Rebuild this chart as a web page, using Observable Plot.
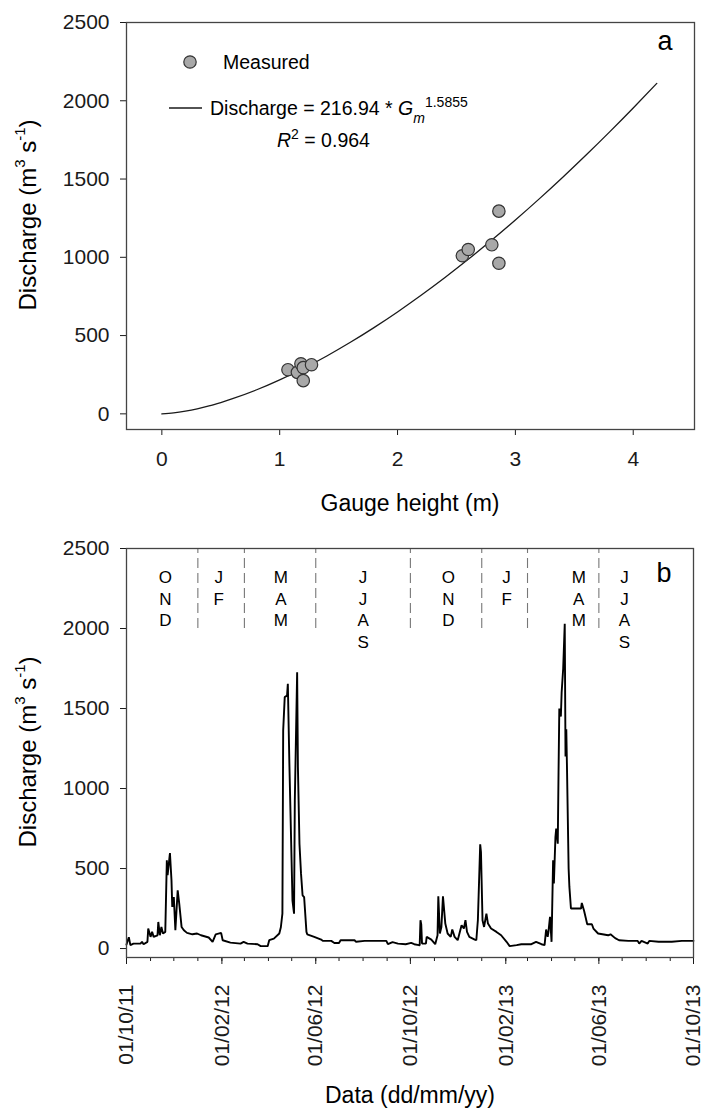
<!DOCTYPE html>
<html>
<head>
<meta charset="utf-8">
<script src="https://cdn.jsdelivr.net/npm/d3@7"></script>
<script src="https://cdn.jsdelivr.net/npm/@observablehq/plot@0.6"></script>
<style>
  html, body { margin: 0; padding: 0; background: #fff; }
  #wrap { width: 703px; }
  #wrap svg { display: block; }
</style>
</head>
<body>
<div id="wrap"></div>
<script>
// ---------------- DATA ----------------
// Panel a: measured points
const gaugeHeight = [1.07, 1.15, 1.18, 1.20, 1.27, 1.20, 2.55, 2.60, 2.80, 2.86, 2.86];
const measuredDischarge = [282, 265, 320, 295, 314, 212, 1010, 1050, 1080, 1295, 962];
// Rating curve stated on the chart: Discharge = 216.94 * Gm^1.5855
const fitCoef = 216.94;
const fitExp = 1.5855;
const curveGauge = [0, 0.1, 0.2, 0.3, 0.4, 0.5, 0.6, 0.8, 1.0, 1.2, 1.4, 1.6, 1.8, 2.0, 2.2, 2.4, 2.6, 2.8, 3.0, 3.2, 3.4, 3.6, 3.8, 4.0, 4.2];
const xTicksA = [0, 1, 2, 3, 4];
const yTicks = [0, 500, 1000, 1500, 2000, 2500];

// Panel b: daily discharge series (day offset from 01/10/2011, m3/s)
const seriesStart = "2011-10-01";
const dayOffset = [0, 3, 5, 9, 18, 20, 22, 27, 28, 31, 33, 35, 40, 41, 43, 45, 47, 50, 52, 53, 56, 58, 59, 61, 63, 66, 68, 71, 74, 78, 85, 91, 96, 106, 111, 115, 122, 124, 134, 147, 151, 156, 169, 173, 182, 184, 190, 197, 199, 201,
  202, 204, 207, 208, 210, 214, 216, 217, 220, 221, 223, 225, 227, 229, 232, 233, 242, 251, 253, 264, 268, 274, 276, 285, 294, 296, 307, 320, 335, 337, 343, 350, 360, 367, 371, 377,
  378, 379, 380, 381, 386, 387, 393, 398, 401, 402, 404, 406, 408, 411, 414, 418, 420, 423, 427, 432, 435, 437, 439, 442, 449, 451, 453, 456, 457, 459, 461, 464, 466, 470, 477, 483, 490, 494, 503, 509, 522, 528, 535, 539,
  541, 543, 544, 546, 548, 550, 551, 553, 554, 556, 557, 558, 560, 561, 563, 565, 566, 567, 568, 570, 571, 573, 586, 587, 590, 594, 600, 602, 608, 621, 624, 630, 635, 647, 659, 661, 664, 672, 674, 686, 703, 716, 731];
const dischargeSeries = [25, 71, 21, 31, 31, 42, 27, 42, 125, 73, 104, 73, 83, 166, 83, 135, 94, 104, 551, 458, 597, 426, 260, 322, 114, 364, 281, 135, 114, 98, 89, 94, 83, 69, 42, 89, 98, 52, 37, 31, 42, 31, 27, 15, 15, 52, 62, 94, 133, 218,
  1362, 1571, 1581, 1654, 1154, 300, 218, 925, 1727, 1133, 654, 468, 333, 322, 104, 89, 73, 56, 48, 48, 35, 35, 52, 52, 52, 42, 48, 48, 48, 27, 40, 31, 27, 35, 27, 21,
  21, 177, 150, 31, 31, 73, 56, 27, 83, 327, 94, 135, 327, 156, 94, 73, 119, 73, 52, 146, 125, 177, 104, 73, 56, 52, 177, 651, 603, 177, 135, 218, 156, 125, 104, 83, 42, 15, 21, 27, 27, 42, 27, 21,
  119, 73, 104, 198, 42, 551, 406, 697, 749, 655, 1100, 1500, 1450, 1600, 1750, 2030, 1200, 1370, 1100, 500, 385, 250, 250, 285, 235, 152, 152, 125, 94, 83, 89, 65, 52, 48, 48, 31, 48, 31, 48, 42, 42, 48, 48];

const seasonDividers = ["2012-01-01", "2012-03-01", "2012-06-01", "2012-10-01", "2013-01-01", "2013-03-01", "2013-06-01"];
const seasonLabels = ["O\nN\nD", "J\nF", "M\nA\nM", "J\nJ\nA\nS", "O\nN\nD", "J\nF", "M\nA\nM", "J\nJ\nA\nS"];
const seasonLabelDates = ["2011-11-20", "2012-01-28", "2012-04-17", "2012-08-01", "2012-11-19", "2013-02-02", "2013-05-06", "2013-07-04"];
const xMajorTicksB = ["2011-10-01", "2012-02-01", "2012-06-01", "2012-10-01", "2013-02-01", "2013-06-01", "2013-10-01"];
const xDomainB = ["2011-10-01", "2013-10-01"];

// ---------------- BUILD ----------------
const FONT = "'Liberation Sans', Arial, Helvetica, sans-serif";
const parse = s => new Date(s + "T00:00:00Z");
const t0 = parse(seriesStart);

const measured = gaugeHeight.map((g, i) => ({g, q: measuredDischarge[i]}));
const curve = curveGauge.map(g => ({g, q: fitCoef * Math.pow(g, fitExp)}));
const series = dayOffset.map((d, i) => ({date: new Date(t0.getTime() + d * 864e5), q: dischargeSeries[i]}));
const seasons = seasonLabels.map((t, i) => ({text: t, date: parse(seasonLabelDates[i])}));
const dividers = seasonDividers.map(parse);
const domainB = xDomainB.map(parse);
const monthTicks = d3.utcMonth.range(domainB[0], new Date(domainB[1].getTime() + 864e5));
const majorTicks = xMajorTicksB.map(parse);

const wrap = document.getElementById("wrap");
const INK = "#1a1a1a";
const FRAME = "#444";

// ---- Panel a ----
const chartA = Plot.plot({
  width: 703, height: 540,
  marginLeft: 126, marginRight: 9, marginTop: 22, marginBottom: 111,
  style: {fontFamily: FONT, fontSize: "21px", color: INK, background: "#fff", overflow: "visible"},
  x: {domain: [-0.3, 4.52]},
  y: {domain: [-100, 2500]},
  marks: [
    Plot.axisX({ticks: xTicksA, tickSize: 6, tickPadding: 16, fontSize: 21, label: null, tickFormat: d3.format("d")}),
    Plot.axisY({ticks: yTicks, tickSize: 6, tickPadding: 11, fontSize: 21, label: null, tickFormat: d3.format("d")}),
    Plot.line(curve, {x: "g", y: "q", stroke: INK, strokeWidth: 1.3, curve: "natural"}),
    Plot.dot(measured, {x: "g", y: "q", r: 6.2, fill: "#a8a8a8", stroke: "#333", strokeWidth: 1.2}),
    Plot.text(["a"], {frameAnchor: "top-right", dx: -22, dy: 8, lineAnchor: "top", fontSize: 27, fill: "#000"}),
    Plot.frame({stroke: FRAME, strokeWidth: 1.3})
  ]
});
wrap.appendChild(chartA);

// ---- Panel b ----
const chartB = Plot.plot({
  width: 703, height: 575,
  marginLeft: 126, marginRight: 10, marginTop: 8, marginBottom: 158,
  style: {fontFamily: FONT, fontSize: "21px", color: INK, background: "#fff", overflow: "visible"},
  x: {type: "utc", domain: domainB},
  y: {domain: [-56, 2500]},
  marks: [
    Plot.axisX({ticks: monthTicks, tickSize: 4, tickFormat: () => "", label: null}),
    Plot.axisX({ticks: majorTicks, tickSize: 7, tickPadding: 20, tickRotate: -90, fontSize: 21, label: null, tickFormat: d3.utcFormat("%d/%m/%y")}),
    Plot.axisY({ticks: yTicks, tickSize: 6, tickPadding: 11, fontSize: 21, label: null, tickFormat: d3.format("d")}),
    Plot.ruleX(dividers, {y1: 2000, y2: 2500, stroke: "#777", strokeWidth: 1.1, strokeDasharray: "10,5"}),
    Plot.text(seasons, {x: "date", y: 2500, text: "text", lineAnchor: "top", dy: 19, lineHeight: 1.28, fontSize: 17, fill: "#000"}),
    Plot.line(series, {x: "date", y: "q", stroke: "#000", strokeWidth: 1.9, strokeLinejoin: "miter"}),
    Plot.text(["b"], {frameAnchor: "top-right", dx: -22, dy: 14, lineAnchor: "top", fontSize: 27, fill: "#000"}),
    Plot.frame({stroke: FRAME, strokeWidth: 1.3})
  ]
});
wrap.appendChild(chartB);

// ---- Axis titles & legend (text with super/subscripts) ----
function yTitle(svg, cx, cy) {
  const t = d3.select(svg).append("text")
    .attr("transform", `translate(${cx},${cy}) rotate(-90)`)
    .attr("text-anchor", "middle").attr("dominant-baseline", "middle")
    .attr("font-family", FONT).attr("font-size", 24).attr("fill", "#000");
  t.append("tspan").text("Discharge (m");
  t.append("tspan").attr("baseline-shift", "super").attr("font-size", 15).text("3");
  t.append("tspan").text(" s");
  t.append("tspan").attr("baseline-shift", "super").attr("font-size", 15).text("-1");
  t.append("tspan").text(")");
}
function xTitle(svg, cx, cy, label) {
  d3.select(svg).append("text")
    .attr("x", cx).attr("y", cy)
    .attr("text-anchor", "middle").attr("dominant-baseline", "middle")
    .attr("font-family", FONT).attr("font-size", 23).attr("fill", "#000")
    .text(label);
}
yTitle(chartA, 30, 215);
xTitle(chartA, 410, 505, "Gauge height (m)");
yTitle(chartB, 30, 212);
xTitle(chartB, 410, 557, "Data (dd/mm/yy)");

// legend (panel a)
const lg = d3.select(chartA).append("g").attr("font-family", FONT).attr("font-size", 19.5)
  .attr("fill", "#000").attr("text-anchor", "start");
lg.append("circle").attr("cx", 190).attr("cy", 62).attr("r", 6.2).attr("fill", "#a8a8a8").attr("stroke", "#333").attr("stroke-width", 1.2);
lg.append("text").attr("x", 223).attr("y", 69).attr("text-anchor", "start").text("Measured");
lg.append("line").attr("x1", 169).attr("x2", 202).attr("y1", 108).attr("y2", 108).attr("stroke", INK).attr("stroke-width", 1.3);
const eq = lg.append("text").attr("x", 210).attr("y", 115).attr("text-anchor", "start");
eq.append("tspan").text("Discharge = 216.94 * ");
eq.append("tspan").attr("font-style", "italic").text("G");
eq.append("tspan").attr("font-style", "italic").attr("baseline-shift", "sub").attr("font-size", 14).text("m");
eq.append("tspan").attr("baseline-shift", "super").attr("font-size", 14).text("1.5855");
const r2 = lg.append("text").attr("x", 277).attr("y", 147).attr("text-anchor", "start");
r2.append("tspan").attr("font-style", "italic").text("R");
r2.append("tspan").attr("baseline-shift", "super").attr("font-size", 14).text("2");
r2.append("tspan").text(" = 0.964");
</script>
</body>
</html>
